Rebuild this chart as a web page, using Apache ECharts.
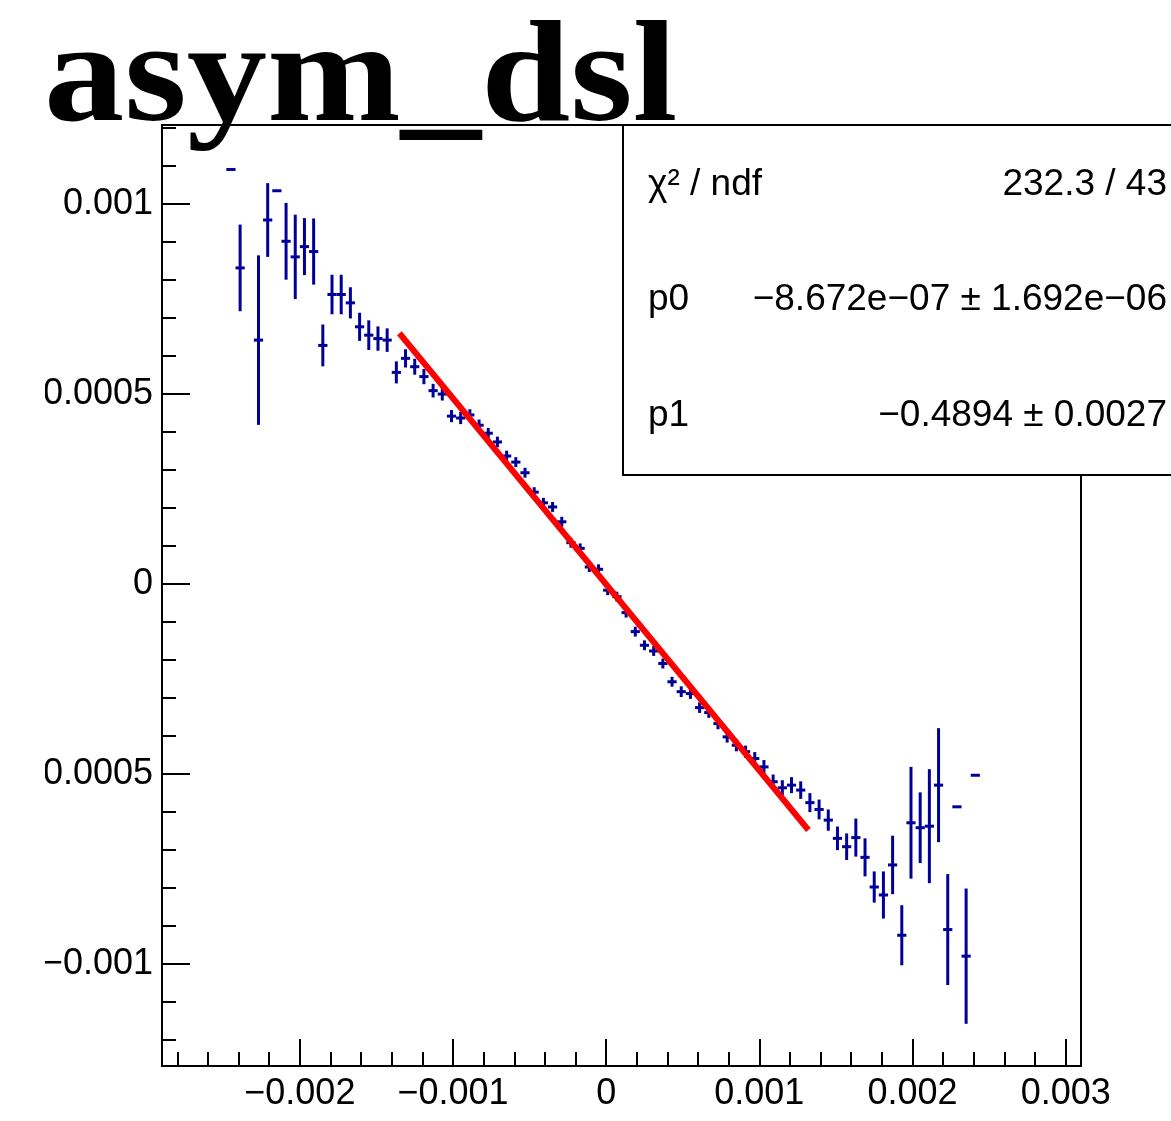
<!DOCTYPE html>
<html>
<head>
<meta charset="utf-8">
<script src="https://cdn.jsdelivr.net/npm/echarts@6/dist/echarts.min.js"></script>
<style>
  html, body { margin: 0; padding: 0; background: #fff; }
  #wrap { position: absolute; left: 45px; top: 0; width: 1126px; height: 1121px; overflow: hidden; }
  #main { width: 1126px; height: 1121px; }
</style>
</head>
<body>
<div id="wrap"><div id="main"></div></div>
<script>
// histogram: 100 bins from -0.0029 to 0.0031
var xMin = -0.0029, xMax = 0.0031, binWidth = 0.00006;
var yMin = -0.001268, yMax = 0.001208;

// filled bins (index), content and error, in units of 1e-3
var binIdx = [7, 8, 10, 11, 12, 13, 14, 15, 16, 17, 18, 19, 20, 21, 22, 23, 24, 25, 26, 27, 28, 29, 30,
  31, 32, 33, 34, 35, 36, 37, 38, 39, 40, 41, 42, 43, 44, 45, 46, 47, 48, 49, 50,
  51, 52, 53, 54, 55, 56, 57, 58, 59, 60, 61, 62, 63, 64, 65, 66, 67, 68, 69, 70,
  71, 72, 73, 74, 75, 76, 77, 78, 79, 80, 81, 82, 83, 84, 85, 86, 87, 88];
var asymE3 = [1.091, 0.832, 0.642, 0.958, 1.035, 0.902, 0.861, 0.888, 0.875, 0.628, 0.762, 0.762, 0.740,
  0.677, 0.655, 0.646, 0.642, 0.557, 0.594, 0.572, 0.546, 0.509, 0.500,
  0.442, 0.437, 0.445, 0.418, 0.397, 0.374, 0.337, 0.321, 0.293, 0.242, 0.214, 0.203, 0.164, 0.109, 0.094,
  0.045, 0.039, -0.016, -0.033, -0.075,
  -0.125, -0.161, -0.176, -0.209, -0.257, -0.283, -0.288, -0.325, -0.338, -0.367, -0.402, -0.424, -0.441,
  -0.459, -0.481, -0.520, -0.536, -0.529, -0.542, -0.575,
  -0.593, -0.621, -0.669, -0.691, -0.667, -0.719, -0.797, -0.818, -0.739, -0.924, -0.628, -0.641, -0.637,
  -0.529, -0.909, -0.586, -0.979, -0.503];
var errE3 = [0, 0.114, 0.223, 0.097, 0, 0.101, 0.111, 0.075, 0.087, 0.055, 0.052, 0.052, 0.041,
  0.037, 0.039, 0.032, 0.031, 0.029, 0.024, 0.021, 0.020, 0.018, 0.017,
  0.016, 0.016, 0.015, 0.015, 0.014, 0.014, 0.014, 0.013, 0.013, 0.013, 0.013, 0.013, 0.013, 0.013, 0.013,
  0.013, 0.013, 0.013, 0.013, 0.013,
  0.013, 0.013, 0.013, 0.013, 0.013, 0.014, 0.014, 0.014, 0.014, 0.015, 0.015, 0.016, 0.016,
  0.017, 0.018, 0.019, 0.020, 0.021, 0.023, 0.025,
  0.026, 0.028, 0.031, 0.035, 0.050, 0.050, 0.041, 0.062, 0.077, 0.079, 0.147, 0.093, 0.150,
  0.150, 0.146, 0, 0.178, 0];

// fit line end points (pol1 fit)
var fitX = [-0.00135, 0.00132];
var fitY = [0.000660, -0.000647];

// axis ticks
var xMajor = [-0.002, -0.001, 0, 0.001, 0.002, 0.003];
var xMajorLabels = ['\u22120.002', '\u22120.001', '0', '0.001', '0.002', '0.003'];
var xMinor = [-0.0028, -0.0026, -0.0024, -0.0022, -0.0018, -0.0016, -0.0014, -0.0012,
  -0.0008, -0.0006, -0.0004, -0.0002, 0.0002, 0.0004, 0.0006, 0.0008,
  0.0012, 0.0014, 0.0016, 0.0018, 0.0022, 0.0024, 0.0026, 0.0028];
var yMajor = [-0.001, -0.0005, 0, 0.0005, 0.001];
var yMajorLabels = ['\u22120.001', '\u22120.0005', '0', '0.0005', '0.001'];
var yMinor = [-0.0012, -0.0011, -0.0009, -0.0008, -0.0007, -0.0006, -0.0004, -0.0003, -0.0002, -0.0001,
  0.0001, 0.0002, 0.0003, 0.0004, 0.0006, 0.0007, 0.0008, 0.0009, 0.0011, 0.0012];

var statsRows = [
  ['\u03c7\u00b2 / ndf', '232.3 / 43'],
  ['p0', '\u22128.672e\u221207 \u00b1 1.692e\u221206'],
  ['p1', '\u22120.4894 \u00b1 0.0027']
];

var histData = binIdx.map(function (b, i) {
  return [xMin + (b + 0.5) * binWidth, asymE3[i] * 1e-3, errE3[i] * 1e-3];
});

function pickLabel(vals, labels) {
  return function (v) {
    for (var i = 0; i < vals.length; i++) if (Math.abs(vals[i] - v) < 1e-9) return labels[i];
    return '';
  };
}

function renderBin(params, api) {
  var x = api.value(0), y = api.value(1), e = api.value(2);
  var c = api.coord([x, y]);
  var half = api.size([binWidth, 0])[0] / 2;
  var st = { stroke: '#000099', lineWidth: 3 };
  var kids = [{ type: 'line', shape: { x1: c[0] - half, y1: c[1], x2: c[0] + half, y2: c[1] }, style: st }];
  if (e > 0) {
    var t = api.coord([x, y + e]), b = api.coord([x, y - e]);
    kids.push({ type: 'line', shape: { x1: c[0], y1: t[1], x2: c[0], y2: b[1] }, style: st });
  }
  return { type: 'group', children: kids };
}

var lblFont = { fontFamily: 'Liberation Sans', fontSize: 36, color: '#000' };
var chart = echarts.init(document.getElementById('main'), null, { renderer: 'canvas' });

var statsGraphics = [{
  type: 'rect', z: 100, shape: { x: 578, y: 125, width: 620, height: 350 },
  style: { fill: '#fff', stroke: '#000', lineWidth: 2 }
}];
var rowY = [185, 300, 416];
statsRows.forEach(function (r, i) {
  statsGraphics.push({ type: 'text', z: 101, x: 603, y: rowY[i],
    style: { text: r[0], font: '37px "Liberation Sans"', fill: '#000', textAlign: 'left', textVerticalAlign: 'middle' } });
  statsGraphics.push({ type: 'text', z: 101, x: 1122, y: rowY[i],
    style: { text: r[1], font: '37px "Liberation Sans"', fill: '#000', textAlign: 'right', textVerticalAlign: 'middle' } });
});
statsGraphics.push({ type: 'text', z: 102, x: -1, y: 83, scaleX: 1.115,
  style: { text: 'asym_dsl', font: 'bold 144px "Liberation Serif"', fill: '#000', textAlign: 'left', textVerticalAlign: 'middle' } });

var option = {
  animation: false,
  backgroundColor: '#fff',
  grid: { left: 117, right: 90, top: 125, bottom: 55, outerBoundsMode: 'none', containLabel: false,
    show: true, borderColor: '#000', borderWidth: 2, backgroundColor: 'transparent' },
  xAxis: [{
    type: 'value', min: xMin, max: xMax, position: 'bottom',
    axisLine: { show: false, onZero: false }, splitLine: { show: false },
    axisTick: { show: true, inside: true, length: 27, customValues: xMajor, lineStyle: { color: '#000', width: 2 } },
    axisLabel: Object.assign({ customValues: xMajor, margin: 10, formatter: pickLabel(xMajor, xMajorLabels) }, lblFont)
  }, {
    type: 'value', min: xMin, max: xMax, position: 'bottom',
    axisLine: { show: false, onZero: false }, splitLine: { show: false }, axisLabel: { show: false },
    axisTick: { show: true, inside: true, length: 14, customValues: xMinor, lineStyle: { color: '#000', width: 2 } }
  }],
  yAxis: [{
    type: 'value', min: yMin, max: yMax, position: 'left',
    axisLine: { show: false, onZero: false }, splitLine: { show: false },
    axisTick: { show: true, inside: true, length: 28, customValues: yMajor, lineStyle: { color: '#000', width: 2 } },
    axisLabel: Object.assign({ customValues: yMajor, margin: 9, formatter: pickLabel(yMajor, yMajorLabels) }, lblFont)
  }, {
    type: 'value', min: yMin, max: yMax, position: 'left',
    axisLine: { show: false, onZero: false }, splitLine: { show: false }, axisLabel: { show: false },
    axisTick: { show: true, inside: true, length: 14, customValues: yMinor, lineStyle: { color: '#000', width: 2 } }
  }],
  series: [{
    type: 'custom', xAxisIndex: 0, yAxisIndex: 0,
    renderItem: renderBin, data: histData, encode: { x: 0, y: 1 }, clip: true
  }, {
    type: 'line', xAxisIndex: 0, yAxisIndex: 0,
    data: fitX.map(function (x, i) { return [x, fitY[i]]; }),
    showSymbol: false, lineStyle: { color: '#ff0000', width: 6 }, z: 5
  }],
  graphic: statsGraphics
};
chart.setOption(option);
</script>
</body>
</html>
